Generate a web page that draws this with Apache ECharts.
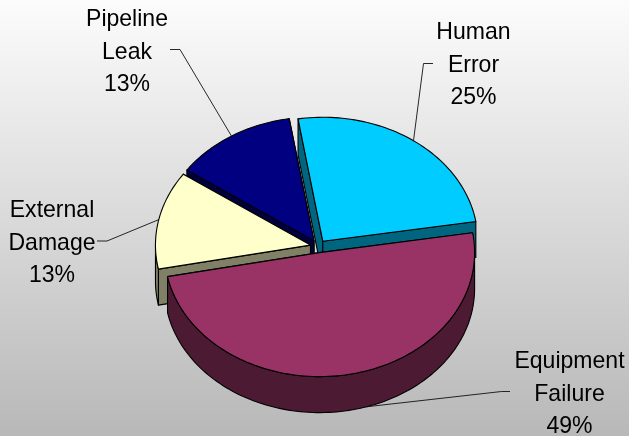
<!DOCTYPE html>
<html>
<head>
<meta charset="utf-8">
<style>html,body{margin:0;padding:0;background:#ddd}#c{width:629px;height:436px}</style>
<script src="https://cdn.jsdelivr.net/npm/echarts@6/dist/echarts.min.js"></script>
</head>
<body>
<div id="c"></div>
<script>
// Data, clockwise from the first slice
const categories = ['Human Error', 'Equipment Failure', 'External Damage', 'Pipeline Leak'];
const shares = [25.0, 49.45, 12.8, 12.75];

// Styling and layout
const topColors  = ['#00CCFF', '#993366', '#FFFFCC', '#000080'];
const wallColors = ['#006680', '#4D1A33', '#808066', '#000040'];
const paintOrder = [3, 0, 2, 1];
const labelCenters = [[473.5, 65], [569.5, 394], [52, 243], [127, 52]];
const elbows = [[[433, 63.5], [423.5, 63.5]], [[510, 391.5], [501.5, 391.5]], [[97, 241], [107, 241]], [[170, 49.5], [180, 49.5]]];
const leaderAngleShift = [0, 7.5, 0, 0];
const geo = { cx: 318.2, cy: 246.4, rx: 155, ry: 124, depth: 36, explode: 7.9, start: 99.2 };

const total = shares.reduce((a, b) => a + b, 0);
const rad = d => d * Math.PI / 180;

function sliceSpan(i) {
  let a = geo.start;
  for (let k = 0; k < i; k++) a -= shares[k] / total * 360;
  return [a, a - shares[i] / total * 360];
}
function arc(c, a1, a2, dy) {
  const n = Math.max(2, Math.ceil(Math.abs(a1 - a2) / 1.5));
  const out = [];
  for (let k = 0; k <= n; k++) {
    const t = rad(a1 + (a2 - a1) * k / n);
    out.push([c[0] + geo.rx * Math.cos(t), c[1] - geo.ry * Math.sin(t) + dy]);
  }
  return out;
}
function renderItem(params, api) {
  const i = api.value(0);
  const [a1, a2] = sliceSpan(i);
  const mid = (a1 + a2) / 2;
  const apex = [
    geo.cx + geo.explode * Math.cos(rad(mid)) * geo.rx / 155,
    geo.cy - geo.explode * Math.sin(rad(mid)) * geo.ry / 155
  ];
  const d = geo.depth;
  const line = { stroke: '#000', lineWidth: 1.1, lineJoin: 'round' };
  const poly = (points, fill) => ({ type: 'polygon', shape: { points }, style: Object.assign({ fill }, line) });
  const children = [];
  const pA = arc(apex, a1, a1, 0)[0], pB = arc(apex, a2, a2, 0)[0];
  const wall = wallColors[i];
  // radial faces: the one lower on screen is nearer the viewer and goes last
  const radial = [pA, pB].sort((p, q) => p[1] - q[1]);
  radial.forEach(p => {
    children.push(poly([apex, p, [p[0], p[1] + d], [apex[0], apex[1] + d]], wall));
  });
  // outer wall: the part of the rim that faces the viewer (angles -180..0)
  for (const shift of [0, 360]) {
    const hi = Math.min(a1 + shift, 0), lo = Math.max(a2 + shift, -180);
    if (hi > lo) {
      const up = arc(apex, hi, lo, 0), dn = arc(apex, lo, hi, d);
      children.push(poly(up.concat(dn), wall));
    }
  }
  // top face
  children.push(poly([apex].concat(arc(apex, a1, a2, 0)), topColors[i]));
  // leader line
  const at = rad(mid + leaderAngleShift[i]);
  const rimDrop = Math.sin(at) < -0.5 ? d : 0;
  const end = [apex[0] + geo.rx * Math.cos(at), apex[1] - geo.ry * Math.sin(at) + rimDrop];
  children.push({
    type: 'polyline', z2: 5,
    shape: { points: elbows[i].concat([end]) },
    style: { fill: 'none', stroke: '#111', lineWidth: 0.9 }
  });
  // label
  const words = categories[i].split(' ');
  const pct = Math.round(shares[i] / total * 100) + '%';
  children.push({
    type: 'text', z2: 6,
    x: labelCenters[i][0], y: labelCenters[i][1], scaleX: 0.96,
    style: {
      text: words.concat(pct).join('\n'),
      fontFamily: '"Liberation Sans", Arial, sans-serif',
      fontSize: 24, lineHeight: 32.5,
      fill: '#000', align: 'center', verticalAlign: 'middle'
    }
  });
  return { type: 'group', children };
}

const chart = echarts.init(document.getElementById('c'), null, { renderer: 'canvas' });
chart.setOption({
  animation: false,
  backgroundColor: {
    type: 'linear', x: 0, y: 0, x2: 0, y2: 1,
    colorStops: [{ offset: 0, color: '#FCFCFC' }, { offset: 1, color: '#B8B8B8' }]
  },
  series: [{
    type: 'custom',
    coordinateSystem: 'none',
    silent: true,
    renderItem,
    data: paintOrder.map(i => ({ name: categories[i], value: [i, shares[i]] }))
  }]
});
</script>
</body>
</html>
